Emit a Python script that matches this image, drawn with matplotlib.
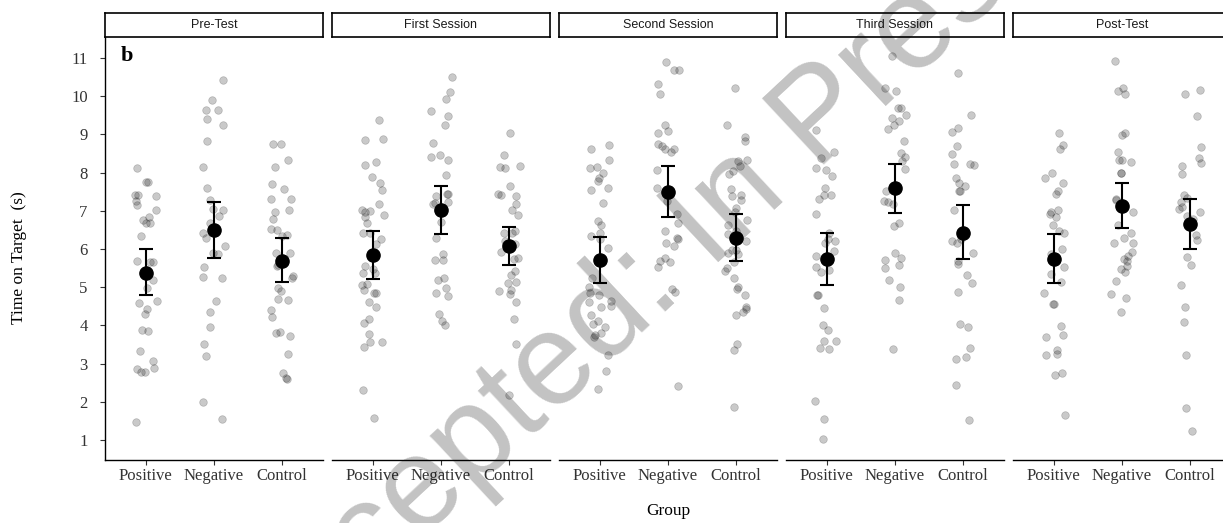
import numpy as np
import matplotlib
matplotlib.use("Agg")
import matplotlib.pyplot as plt

plt.rcParams['font.family'] = ['Liberation Serif', 'DejaVu Serif']

sessions = ["Pre-Test", "First Session", "Second Session", "Third Session", "Post-Test"]
groups = ["Positive", "Negative", "Control"]

# time on target (s)
pre_positive = [8.11, 7.76, 7.76, 7.41, 7.41, 7.39, 7.25, 7.16, 7.03, 6.84, 6.76, 6.69, 6.67, 6.33,
                5.68, 5.66, 5.66, 5.45, 5.19, 4.99, 4.63, 4.58, 4.44, 4.31, 3.87, 3.85, 3.32, 3.06,
                2.89, 2.85, 2.79, 2.79, 1.47]
pre_negative = [10.43, 9.91, 9.65, 9.65, 9.40, 9.24, 8.83, 8.16, 7.59, 7.28, 7.06, 7.02, 6.87, 6.68,
                6.41, 6.30, 6.07, 5.90, 5.88, 5.52, 5.28, 5.24, 4.64, 4.35, 3.97, 3.51, 3.21, 2.00, 1.56]
pre_control = [8.74, 8.74, 8.32, 8.14, 7.71, 7.57, 7.31, 7.31, 7.01, 6.97, 6.78, 6.52, 6.50, 6.36, 6.33,
               5.91, 5.91, 5.59, 5.56, 5.30, 5.23, 4.97, 4.89, 4.69, 4.67, 4.40, 4.22, 3.82, 3.81,
               3.73, 3.26, 2.75, 2.63, 2.61]

first_positive = [9.38, 8.87, 8.86, 8.28, 8.21, 7.89, 7.74, 7.54, 7.18, 7.03, 6.99, 6.97, 6.88, 6.83,
                  6.67, 6.43, 6.41, 6.26, 6.14, 5.56, 5.47, 5.38, 5.38, 5.08, 5.05, 4.93, 4.86, 4.86,
                  4.62, 4.48, 4.18, 4.06, 3.78, 3.57, 3.56, 3.43, 2.30, 1.57]
first_negative = [10.51, 10.12, 9.93, 9.61, 9.47, 9.24, 8.78, 8.47, 8.42, 8.32, 7.95, 7.45, 7.45, 7.39,
                  7.23, 7.20, 7.18, 7.03, 6.71, 6.28, 5.86, 5.72, 5.72, 5.23, 5.20, 4.99, 4.86, 4.76,
                  4.29, 4.12, 4.00]
first_control = [9.03, 8.47, 8.18, 8.14, 8.12, 7.66, 7.43, 7.42, 7.40, 7.17, 7.02, 6.89, 6.47, 6.43,
                 6.41, 6.21, 6.14, 6.14, 5.93, 5.76, 5.73, 5.43, 5.31, 5.14, 5.11, 4.93, 4.90, 4.82,
                 4.62, 4.16, 3.51, 2.19]

second_positive = [8.73, 8.62, 8.32, 8.16, 8.11, 7.99, 7.85, 7.77, 7.59, 7.55, 7.20, 6.74, 6.63, 6.43,
                   6.34, 6.26, 6.04, 5.23, 5.02, 4.86, 4.79, 4.63, 4.62, 4.51, 4.49, 4.27, 4.12, 4.03,
                   3.97, 3.80, 3.75, 3.70, 3.22, 2.82, 2.33]
second_negative = [10.90, 10.69, 10.69, 10.31, 10.07, 9.24, 9.10, 9.05, 8.76, 8.70, 8.63, 8.62, 8.55,
                   8.07, 7.59, 7.26, 6.91, 6.69, 6.48, 6.28, 6.26, 6.17, 6.07, 5.76, 5.68, 5.66, 5.54,
                   4.96, 4.88, 2.41]
second_control = [10.21, 9.25, 8.94, 8.84, 8.33, 8.31, 8.18, 8.04, 7.97, 7.57, 7.41, 7.38, 7.28, 7.08,
                  6.96, 6.77, 6.62, 6.48, 6.39, 6.22, 5.98, 5.98, 5.91, 5.87, 5.66, 5.51, 5.43, 5.23,
                  5.02, 4.96, 4.79, 4.49, 4.44, 4.35, 4.28, 3.51, 3.35, 1.87]

third_positive = [9.12, 8.55, 8.39, 8.11, 8.07, 7.90, 7.59, 7.41, 7.41, 7.32, 6.91, 6.41, 6.26, 6.21,
                  6.17, 5.95, 5.81, 5.52, 5.44, 5.40, 4.79, 4.79, 4.47, 4.01, 3.88, 3.60, 3.60, 3.42,
                  3.39, 2.02, 1.54, 1.02]
third_negative = [11.05, 10.21, 10.13, 9.70, 9.68, 9.52, 9.43, 9.35, 9.24, 9.14, 8.83, 8.51, 8.40, 8.30,
                  8.09, 7.52, 7.26, 7.22, 7.18, 6.67, 6.61, 5.91, 5.77, 5.72, 5.59, 5.51, 5.19, 5.00,
                  4.67, 3.39]
third_control = [10.62, 9.52, 9.16, 9.07, 8.70, 8.48, 8.23, 8.22, 8.21, 7.85, 7.72, 7.65, 7.52, 7.51,
                 7.01, 6.26, 6.20, 6.15, 5.91, 5.69, 5.60, 5.31, 5.10, 4.88, 4.03, 3.96, 3.42, 3.18,
                 3.13, 2.44, 1.52]

post_positive = [9.05, 8.72, 8.62, 7.98, 7.85, 7.73, 7.52, 7.44, 7.03, 6.98, 6.93, 6.85, 6.63, 6.48,
                 6.43, 6.00, 5.86, 5.71, 5.52, 5.36, 5.15, 4.84, 4.55, 4.55, 3.99, 3.75, 3.71, 3.35,
                 3.26, 3.24, 2.76, 2.70, 1.66]
post_negative = [10.91, 10.21, 10.13, 10.06, 9.03, 8.99, 8.53, 8.33, 8.32, 8.29, 8.00, 7.99, 7.32, 7.29,
                 6.96, 6.63, 6.43, 6.28, 6.17, 6.16, 5.93, 5.82, 5.73, 5.69, 5.56, 5.47, 5.40, 5.17,
                 4.82, 4.73, 4.36]
post_control = [10.16, 10.06, 9.47, 8.68, 8.39, 8.24, 8.18, 7.96, 7.41, 7.33, 7.24, 7.09, 7.04, 6.97,
                6.87, 6.78, 6.67, 6.36, 6.23, 5.78, 5.58, 5.06, 4.48, 4.10, 3.22, 1.84, 1.23]

# group means with confidence interval ends, per session (Positive, Negative, Control)
means = [[5.38, 6.50, 5.70], [5.85, 7.01, 6.08], [5.71, 7.50, 6.29], [5.73, 7.59, 6.43], [5.74, 7.14, 6.65]]
ci_high = [[6.00, 7.24, 6.28], [6.48, 7.65, 6.58], [6.31, 8.18, 6.91], [6.41, 8.23, 7.16], [6.39, 7.72, 7.30]]
ci_low = [[4.79, 5.77, 5.14], [5.22, 6.39, 5.58], [5.10, 6.84, 5.70], [5.07, 6.94, 5.73], [5.10, 6.56, 6.01]]

raw = [
    [pre_positive, pre_negative, pre_control],
    [first_positive, first_negative, first_control],
    [second_positive, second_negative, second_control],
    [third_positive, third_negative, third_control],
    [post_positive, post_negative, post_control],
]

W, H = 1223, 523
fig = plt.figure(figsize=(W / 100, H / 100), dpi=100)
rng = np.random.default_rng(11)

for i, session in enumerate(sessions):
    left = 105 + 227 * i
    ax = fig.add_axes([left / W, 1 - 460 / H, 218 / W, 423 / H])
    strip = fig.add_axes([left / W, 1 - 37 / H, 218 / W, 24 / H])

    for j in range(3):
        vals = np.array(raw[i][j])
        xs = (j + 1) + rng.uniform(-0.17, 0.17, len(vals))
        ax.scatter(xs, vals, s=30, c='black', alpha=0.21, edgecolors='black',
                   linewidths=0.5, zorder=2)
        m = means[i][j]
        ax.errorbar(j + 1, m, yerr=[[m - ci_low[i][j]], [ci_high[i][j] - m]], fmt='o',
                    color='black', ms=9.5, capsize=4.7, elinewidth=1.5, capthick=1.5, zorder=5)

    ax.set_xlim(0.4, 3.6)
    ax.set_ylim(0.48, 11.55)
    ax.set_xticks([1, 2, 3])
    ax.set_xticklabels(groups, fontsize=12, color='#333333')
    ax.tick_params(axis='x', direction='out', length=3.5, width=0.8, pad=2, colors='#333333')
    for s in ['top', 'right']:
        ax.spines[s].set_visible(False)
    ax.spines['bottom'].set_linewidth(1.0)
    if i == 0:
        ax.set_yticks(range(1, 12))
        ax.tick_params(axis='y', direction='out', length=3.5, width=0.8, pad=9,
                       labelsize=12, colors='#333333')
        ax.spines['left'].set_linewidth(1.0)
        ax.text(0.07, 0.955, "b", transform=ax.transAxes, fontsize=16, fontweight='bold',
                va='center', ha='left')
    else:
        ax.spines['left'].set_visible(False)
        ax.set_yticks([])

    strip.set_xticks([])
    strip.set_yticks([])
    for s in strip.spines.values():
        s.set_linewidth(1.2)
    strip.text(0.5, 0.5, session, ha='center', va='center', fontsize=9,
               family=['Liberation Sans', 'DejaVu Sans'], color='#1a1a1a')

fig.text(19 / W, 1 - 258 / H, "Time on Target  (s)", rotation=90, ha='center', va='center',
         fontsize=12.5)
fig.text(668 / W, 1 - 511 / H, "Group", ha='center', va='center', fontsize=12.5)

# watermark
fig.text(636 / W, 1 - 292 / H, "Accepted: In Press", rotation=43, rotation_mode='anchor',
         ha='center', va='center', fontsize=94, family=['Liberation Sans', 'DejaVu Sans'],
         color='black', alpha=0.24, zorder=10)

fig.savefig("out.png", dpi=100)
